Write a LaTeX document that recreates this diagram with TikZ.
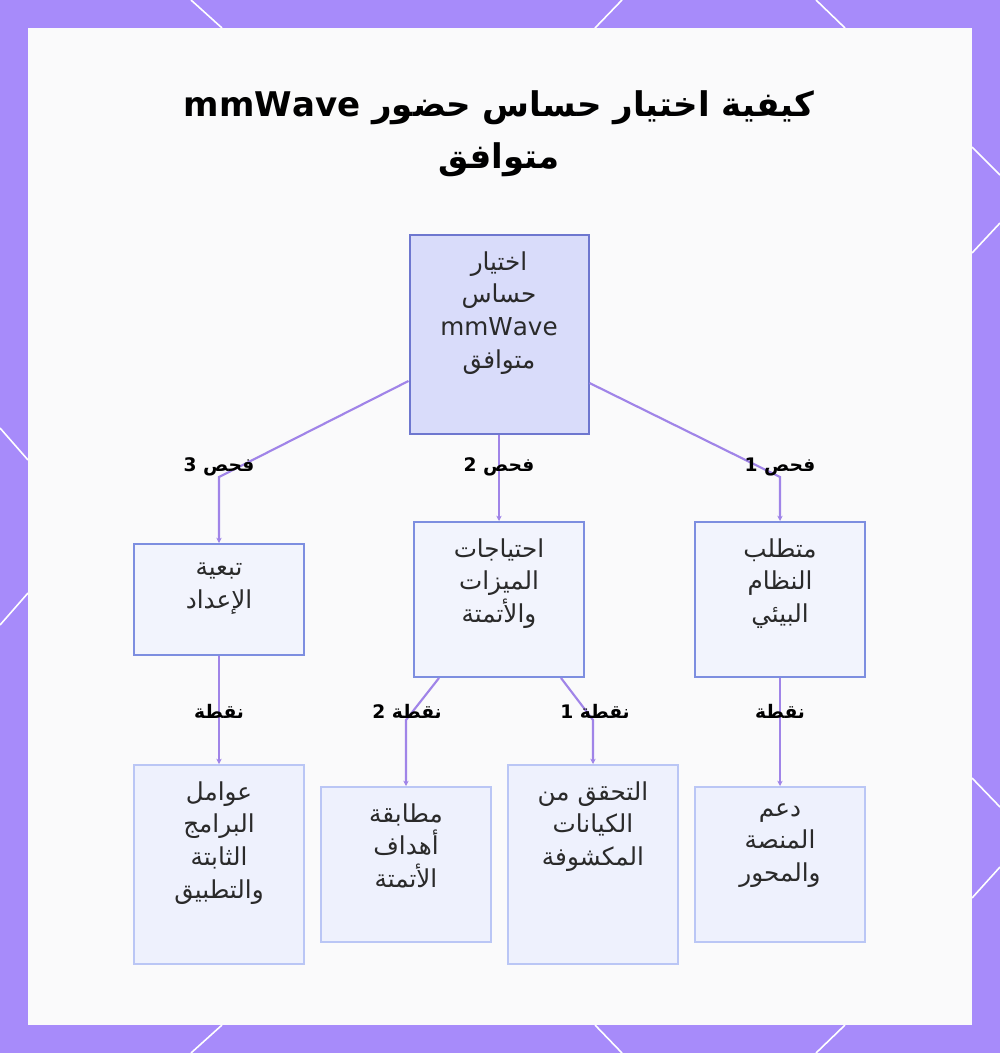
\documentclass[tikz,border=0pt]{standalone}
\usepackage{fontspec}
\usepackage{tikz}
\usetikzlibrary{arrows.meta}
\usetikzlibrary{calc}
\TeXXeTstate=1
\newfontfamily\arabicfont[Script=Arabic]{DejaVu Sans}
\definecolor{frame}{HTML}{A78BFA}
\definecolor{paper}{HTML}{FAFAFB}
\definecolor{linkcol}{HTML}{A084E8}
\definecolor{rootfill}{HTML}{D9DCFA}
\definecolor{rootline}{HTML}{6E77CF}
\definecolor{midfill}{HTML}{F2F4FD}
\definecolor{midline}{HTML}{7D8EE0}
\definecolor{leaffill}{HTML}{EEF1FD}
\definecolor{leafline}{HTML}{BAC6F5}
\definecolor{ink}{HTML}{2A2A2A}

\tikzset{
  box/.style={rectangle, line width=1.5pt, inner sep=0pt, minimum width=127.5pt},
  rootbox/.style={box, draw=rootline, fill=rootfill, minimum width=134.25pt, minimum height=149.25pt},
  midbox/.style={box, draw=midline, fill=midfill, minimum height=116.25pt},
  leafbox/.style={box, draw=leafline, fill=leaffill, minimum height=116.25pt},
  boxtxt/.style={font=\arabicfont\fontsize{18.5}{24.5}\selectfont, text=ink, align=center, anchor=north, inner sep=0pt},
  lab/.style={font=\arabicfont\bfseries\fontsize{14}{16}\selectfont, text=black, inner sep=1pt},
  link/.style={draw=linkcol, line width=1.6pt, -{Stealth[length=4pt,width=4pt]}}
}

\begin{document}
\begin{tikzpicture}[x=0.75pt,y=-0.75pt]
  \useasboundingbox (0,0) rectangle (1000,1053);
  \fill[frame] (0,0) rectangle (1000,1053);
  \foreach \xa/\ya/\xb/\yb in {191/0/222/28, 622/0/595/28, 816/0/845/28,
      222/1025/191/1053, 595/1025/622/1053, 845/1025/816/1053,
      0/428/28/460, 28/593/0/625, 972/147/1000/175, 1000/223/972/253,
      972/778/1000/807, 1000/867/972/898}
    \draw[white, line width=1.2pt] (\xa,\ya) -- (\xb,\yb);
  \fill[paper] (28,28) rectangle (972,1025);

  % title
  \node[font=\arabicfont\bfseries\fontsize{25.5}{39}\selectfont, align=center, text=black] (head) at (499,134)
    {\beginR كيفية اختيار حساس حضور \beginL mmWave\endL\endR\\ \beginR متوافق\endR};

  % boxes
  \node[rootbox] (root) at (499,334.5) {};
  \node[midbox, minimum height=83.25pt] (cfg) at (219,599.5) {};
  \node[midbox] (feat) at (499,599.5) {};
  \node[midbox] (eco) at (780,599.5) {};
  \node[leafbox, minimum height=149.25pt] (fw) at (219,864.5) {};
  \node[leafbox] (goal) at (406,864.5) {};
  \node[leafbox, minimum height=149.25pt] (ent) at (593,864.5) {};
  \node[leafbox] (hub) at (780,864.5) {};

  % texts
  \node[boxtxt] (rootT) at ($(root.north)+(0,17)$) {\beginR اختيار\endR\\ \beginR حساس\endR\\ mmWave\\ \beginR متوافق\endR};
  \node[boxtxt] (cfgT) at ($(cfg.north)+(0,20)$) {\beginR تبعية\endR\\ \beginR الإعداد\endR};
  \node[boxtxt] (featT) at ($(feat.north)+(0,17)$) {\beginR احتياجات\endR\\ \beginR الميزات\endR\\ \beginR والأتمتة\endR};
  \node[boxtxt] (ecoT) at ($(eco.north)+(0,17)$) {\beginR متطلب\endR\\ \beginR النظام\endR\\ \beginR البيئي\endR};
  \node[boxtxt] (fwT) at ($(fw.north)+(0,17)$) {\beginR عوامل\endR\\ \beginR البرامج\endR\\ \beginR الثابتة\endR\\ \beginR والتطبيق\endR};
  \node[boxtxt] (goalT) at ($(goal.north)+(0,17)$) {\beginR مطابقة\endR\\ \beginR أهداف\endR\\ \beginR الأتمتة\endR};
  \node[boxtxt] (entT) at ($(ent.north)+(0,17)$) {\beginR التحقق من\endR\\ \beginR الكيانات\endR\\ \beginR المكشوفة\endR};
  \node[boxtxt] (hubT) at ($(hub.north)+(0,17)$) {\beginR دعم\endR\\ \beginR المنصة\endR\\ \beginR والمحور\endR};

  % connectors
  \coordinate (k3) at (219,477);
  \coordinate (k1) at (780,477);
  \coordinate (p2) at (406,720);
  \coordinate (p1) at (593,720);
  \draw[link] ($(root.south west)+(0,-54)$) -- (k3) -- (cfg.north);
  \draw[link] (root.south) -- (feat.north);
  \draw[link] ($(root.south east)+(0,-52)$) -- (k1) -- (eco.north);
  \draw[link] (cfg.south) -- (fw.north);
  \draw[link] ($(feat.south west)+(26,0)$) -- (p2) -- (goal.north);
  \draw[link] ($(feat.south east)+(-24,0)$) -- (p1) -- (ent.north);
  \draw[link] (eco.south) -- (hub.north);

  % labels
  \node[lab] (l3) at (219,467) {\beginR فحص 3\endR};
  \node[lab] (l2) at (499,467) {\beginR فحص 2\endR};
  \node[lab] (l1) at (780,467) {\beginR فحص 1\endR};
  \node[lab] (m0) at (219,711) {\beginR نقطة\endR};
  \node[lab] (m2) at (407,711) {\beginR نقطة 2\endR};
  \node[lab] (m1) at (595,711) {\beginR نقطة 1\endR};
  \node[lab] (m3) at (780,711) {\beginR نقطة\endR};
\end{tikzpicture}
\end{document}
